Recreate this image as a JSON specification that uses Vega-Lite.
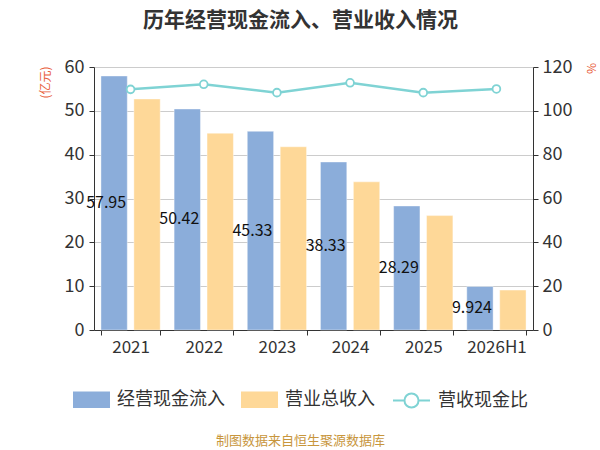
{
  "$schema": "https://vega.github.io/schema/vega-lite/v6.json",
  "autosize": {"type": "none"},
  "width": 439,
  "height": 263,
  "padding": {"left": 94, "top": 67, "right": 67, "bottom": 120},
  "background": "white",
  "title": {
    "text": "历年经营现金流入、营业收入情况",
    "font": "Noto Sans CJK SC",
    "fontSize": 21,
    "fontWeight": "bold",
    "color": "#333333",
    "anchor": "middle",
    "offset": 27,
    "dx": -13
  },
  "config": {
    "font": "Noto Sans CJK SC",
    "view": {"stroke": null}
  },
  "data": {
    "values": [
      {"year": "2021", "cash": 57.95, "revenue": 52.7, "ratio": 109.8},
      {"year": "2022", "cash": 50.42, "revenue": 44.9, "ratio": 112.1},
      {"year": "2023", "cash": 45.33, "revenue": 41.8, "ratio": 108.3},
      {"year": "2024", "cash": 38.33, "revenue": 33.8, "ratio": 112.8},
      {"year": "2025", "cash": 28.29, "revenue": 26.1, "ratio": 108.3},
      {"year": "2026H1", "cash": 9.924, "revenue": 9.1, "ratio": 110.0}
    ]
  },
  "encoding": {
    "x": {
      "field": "year",
      "type": "nominal",
      "sort": null,
      "scale": {"paddingInner": 0.19, "paddingOuter": 0.095},
      "axis": {
        "title": "制图数据来自恒生聚源数据库",
        "titleColor": "#c8963c",
        "titleFontSize": 13,
        "titleFontWeight": "normal",
        "titleAlign": "center",
        "titleBaseline": "middle",
        "titleX": 206,
        "titleY": 110,
        "labelAngle": 0,
        "labelFontSize": 17,
        "labelColor": "#333333",
        "labelPadding": 4,
        "tickBand": "extent",
        "tickSize": 5,
        "tickColor": "#333333",
        "domainColor": "#333333",
        "grid": false
      }
    }
  },
  "layer": [
    {
      "transform": [
        {"fold": ["cash", "revenue"], "as": ["key", "value"]},
        {"lookup": "key", "from": {"data": {"values": [
          {"key": "cash", "series": "经营现金流入"},
          {"key": "revenue", "series": "营业总收入"}
        ]}, "key": "key", "fields": ["series"]}}
      ],
      "mark": {"type": "bar", "stroke": "#ffffff", "strokeOpacity": 0.5, "strokeWidth": 0.8},
      "encoding": {
        "xOffset": {
          "field": "series",
          "type": "nominal",
          "sort": ["经营现金流入", "营业总收入"],
          "scale": {"domain": ["经营现金流入", "营业总收入"], "paddingInner": 0.2, "paddingOuter": 0}
        },
        "y": {
          "field": "value",
          "type": "quantitative",
          "scale": {"domain": [0, 60]},
          "axis": {
            "values": [0, 10, 20, 30, 40, 50, 60],
            "title": "(亿元)",
            "titleColor": "#e8603c",
            "titleFontSize": 12,
            "titleFontWeight": "normal",
            "titleAngle": -90,
            "titleAlign": "center",
            "titleBaseline": "middle",
            "titleX": -49,
            "titleY": 15,
            "labelFontSize": 18,
            "labelColor": "#333333",
            "labelPadding": 5,
            "tickSize": 5,
            "tickColor": "#333333",
            "domainColor": "#333333",
            "grid": true,
            "gridColor": "#cccccc"
          }
        },
        "color": {
          "field": "series",
          "type": "nominal",
          "scale": {
            "domain": ["经营现金流入", "营业总收入"],
            "range": ["#8badda", "#fed898"]
          },
          "legend": {
            "orient": "none",
            "direction": "horizontal",
            "legendX": -21,
            "legendY": 314,
            "title": null,
            "labelFontSize": 18,
            "labelColor": "#333333",
            "labelOffset": 7,
            "columnPadding": 16,
            "symbolSize": 1369,
            "symbolType": "M-1,-0.45H1V0.45H-1Z",
            "symbolStrokeWidth": 0
          }
        }
      }
    },
    {
      "mark": {"type": "text", "fontSize": 16, "color": "#111111", "baseline": "middle", "align": "center", "dx": -8},
      "encoding": {
        "xOffset": {"datum": "经营现金流入"},
        "y": {
          "field": "cash",
          "type": "quantitative",
          "scale": {"domain": [0, 120]},
          "axis": null
        },
        "text": {"field": "cash", "type": "quantitative"}
      }
    },
    {
      "mark": {
        "type": "line",
        "strokeWidth": 2.5,
        "point": {"filled": false, "fill": "#ffffff", "size": 60, "strokeWidth": 1.8, "color": "#7fd3d4"}
      },
      "encoding": {
        "y": {
          "field": "ratio",
          "type": "quantitative",
          "scale": {"domain": [0, 120]},
          "axis": {
            "orient": "right",
            "values": [0, 20, 40, 60, 80, 100, 120],
            "title": "%",
            "titleColor": "#e8603c",
            "titleFontSize": 12,
            "titleFontWeight": "normal",
            "titleAngle": -90,
            "titleAlign": "center",
            "titleBaseline": "middle",
            "titleX": 58,
            "titleY": 1,
            "labelFontSize": 18,
            "labelColor": "#333333",
            "labelPadding": 4,
            "tickSize": 5,
            "tickColor": "#333333",
            "domainColor": "#333333",
            "grid": false
          }
        },
        "stroke": {
          "datum": "营收现金比",
          "scale": {"domain": ["营收现金比"], "range": ["#7fd3d4"]},
          "legend": {
            "orient": "none",
            "legendX": 298,
            "legendY": 314,
            "title": null,
            "labelFontSize": 18,
            "labelColor": "#333333",
            "labelOffset": 7,
            "symbolSize": 1369,
            "symbolType": "M-1,0H-0.38M0.38,0H1M0.38,0A0.38,0.38,0,1,1,-0.38,0A0.38,0.38,0,1,1,0.38,0",
            "symbolFillColor": "#ffffff",
            "symbolStrokeWidth": 2
          }
        }
      }
    }
  ],
  "resolve": {"scale": {"y": "independent"}}
}
